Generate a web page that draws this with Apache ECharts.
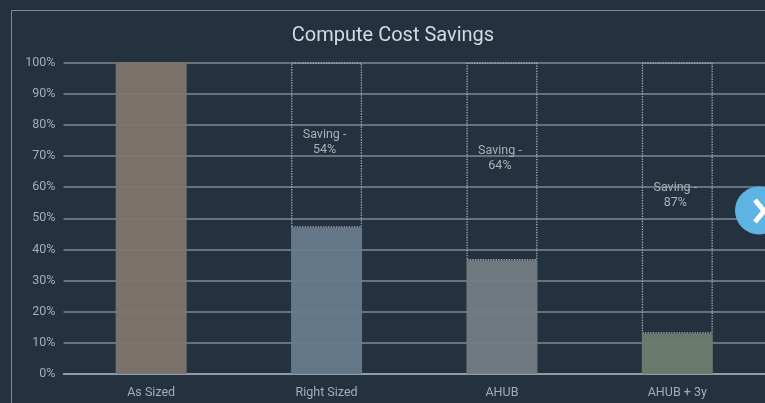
<!DOCTYPE html>
<html>
<head>
<meta charset="utf-8">
<style>html,body{margin:0;padding:0;background:#24313f}#c{width:765px;height:403px;filter:blur(0.45px)}</style>
<script src="https://cdn.jsdelivr.net/npm/echarts@6/dist/echarts.min.js"></script>
</head>
<body>
<div id="c"></div>
<script>
const categories = ['As Sized', 'Right Sized', 'AHUB', 'AHUB + 3y'];
const costValues = [100, 47, 36.5, 13];
const savingGap = [null, 53, 63.5, 87];
const savingLabels = ['', 'Saving -\n54%', 'Saving -\n64%', 'Saving -\n87%'];
const barColors = ['#80756d', '#687b8c', '#747d83', '#6b7e6e'];
const tickLabels = ['0%', '10%', '20%', '30%', '40%', '50%', '60%', '70%', '80%', '90%', '100%'];

const chart = echarts.init(document.getElementById('c'), null, {renderer: 'canvas'});
chart.setOption({
  backgroundColor: '#24313f',
  animation: false,
  title: {
    text: 'Compute Cost Savings', left: 388, top: 21, textAlign: 'center',
    textStyle: {color: '#d3dbe1', fontSize: 20, fontWeight: 'normal', fontFamily: 'Roboto'}
  },
  grid: {left: 63.5, right: -0.5, top: 62.5, bottom: 29},
  xAxis: {
    type: 'category', data: categories,
    axisTick: {show: false},
    axisLine: {lineStyle: {color: '#a0abb5', width: 1.5}},
    axisLabel: {color: '#a4aeb8', fontSize: 12.5, margin: 12, fontFamily: 'Roboto'}
  },
  yAxis: {
    type: 'value', min: 0, max: 100, interval: 10,
    axisLine: {show: false}, axisTick: {show: false},
    axisLabel: {
      color: '#a4aeb8', fontSize: 12.5, margin: 8, fontFamily: 'Roboto',
      formatter: (v) => tickLabels[v / 10]
    },
    splitLine: {lineStyle: {color: '#7c8995', width: 1.5}}
  },
  series: [
    {
      type: 'bar', stack: 'a', barWidth: 71,
      data: costValues.map((v, i) => ({value: v, itemStyle: {color: barColors[i], opacity: 0.95}}))
    },
    {
      type: 'bar', stack: 'a', barWidth: 71,
      data: savingGap,
      itemStyle: {color: 'rgba(0,0,0,0)', borderColor: '#aab4bd', borderWidth: 1.3, borderType: 'dotted'},
      label: {
        show: true, position: 'inside', offset: [-2, -3],
        color: '#a9b2ba', fontSize: 12.5, lineHeight: 15, fontFamily: 'Roboto',
        formatter: (p) => savingLabels[p.dataIndex]
      }
    }
  ],
  graphic: [
    {type: 'rect', silent: true, z: -1, shape: {x: 11.5, y: 10.5, width: 770, height: 410},
      style: {fill: 'none', stroke: '#7d8b98', lineWidth: 1}},
    {type: 'circle', silent: true, z: 100, shape: {cx: 759, cy: 210.5, r: 24},
      style: {fill: '#5db4e2'}},
    {type: 'polyline', silent: true, z: 101, shape: {points: [[755, 200], [764, 211], [755, 222]]},
      style: {fill: 'none', stroke: '#ffffff', lineWidth: 5}}
  ]
});
</script>
</body>
</html>
